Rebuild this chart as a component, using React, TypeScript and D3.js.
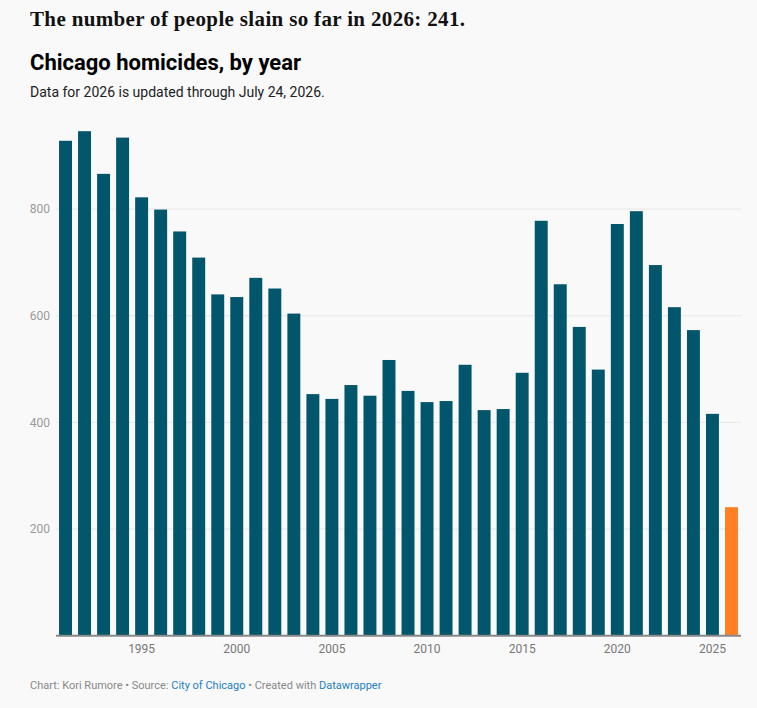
import { useEffect, useRef } from "react";
import * as d3 from "d3";

// Chicago homicides per year (2026 is partial, through July 24)
const years = [
  1991, 1992, 1993, 1994, 1995, 1996, 1997, 1998, 1999, 2000, 2001, 2002,
  2003, 2004, 2005, 2006, 2007, 2008, 2009, 2010, 2011, 2012, 2013, 2014,
  2015, 2016, 2017, 2018, 2019, 2020, 2021, 2022, 2023, 2024, 2025, 2026,
];
const homicides = [
  928, 946, 866, 934, 822, 799, 758, 709, 640, 635, 671, 651,
  604, 453, 444, 470, 450, 517, 459, 438, 440, 508, 423, 425,
  493, 778, 659, 579, 499, 772, 796, 695, 616, 573, 416, 241,
];
const yTicks = [200, 400, 600, 800];
const xTickYears = [1995, 2000, 2005, 2010, 2015, 2020, 2025];

const W = 757;
const H = 708;
const BG = "#f9f9f9";
const BAR = "#01566b";
const HIGHLIGHT = "#ff7f22";

export default function App() {
  const ref = useRef<SVGSVGElement>(null);

  useEffect(() => {
    document.body.style.margin = "0";
    document.body.style.background = BG;

    const svg = d3.select(ref.current);
    svg.selectAll("*").remove();

    const x = d3
      .scaleBand<number>()
      .domain(years)
      .range([56, 741])
      .paddingInner(0.32)
      .paddingOuter(0.16);
    const y = d3.scaleLinear().domain([0, 1000]).range([635.7, 102.4]);

    const font = "Roboto, 'Noto Sans', sans-serif";

    // header
    svg
      .append("text")
      .attr("x", 30)
      .attr("y", 26)
      .attr("font-family", "'Liberation Serif', serif")
      .attr("font-weight", 700)
      .attr("font-size", 21)
      .attr("fill", "#111")
      .attr("textLength", 435)
      .attr("lengthAdjust", "spacing")
      .text("The number of people slain so far in 2026: 241.");
    svg
      .append("text")
      .attr("x", 30)
      .attr("y", 70)
      .attr("font-family", font)
      .attr("font-weight", 700)
      .attr("font-size", 22)
      .attr("fill", "#000")
      .text("Chicago homicides, by year");
    svg
      .append("text")
      .attr("x", 30)
      .attr("y", 97)
      .attr("font-family", font)
      .attr("font-size", 14)
      .attr("fill", "#222")
      .text("Data for 2026 is updated through July 24, 2026.");

    // grid + y labels
    const grid = svg.append("g");
    grid
      .selectAll("line")
      .data(yTicks)
      .join("line")
      .attr("x1", 56)
      .attr("x2", 741)
      .attr("y1", (d) => y(d))
      .attr("y2", (d) => y(d))
      .attr("stroke", "#e6e6e6")
      .attr("stroke-width", 1);
    grid
      .selectAll("text")
      .data(yTicks)
      .join("text")
      .attr("x", 50)
      .attr("y", (d) => y(d))
      .attr("dy", "0.35em")
      .attr("text-anchor", "end")
      .attr("font-family", font)
      .attr("font-size", 12)
      .attr("fill", "#999")
      .text((d) => d);

    // bars
    svg
      .append("g")
      .selectAll("rect")
      .data(years)
      .join("rect")
      .attr("x", (d) => x(d)!)
      .attr("y", (_, i) => y(homicides[i]))
      .attr("width", x.bandwidth())
      .attr("height", (_, i) => y(0) - y(homicides[i]))
      .attr("fill", (d) => (d === 2026 ? HIGHLIGHT : BAR));

    // baseline
    svg
      .append("line")
      .attr("x1", 56)
      .attr("x2", 741)
      .attr("y1", y(0))
      .attr("y2", y(0))
      .attr("stroke", "#888")
      .attr("stroke-width", 2);

    // x labels
    svg
      .append("g")
      .selectAll("text")
      .data(xTickYears)
      .join("text")
      .attr("x", (d) => x(d)! + x.bandwidth() / 2)
      .attr("y", 653)
      .attr("text-anchor", "middle")
      .attr("font-family", font)
      .attr("font-size", 12)
      .attr("fill", "#777")
      .text((d) => d);

    // footer
    const foot = svg
      .append("text")
      .attr("x", 30)
      .attr("y", 689)
      .attr("font-family", font)
      .attr("font-size", 11)
      .attr("fill", "#888");
    foot.append("tspan").text("Chart: Kori Rumore • Source: ");
    foot.append("tspan").attr("fill", "#1d7fc2").text("City of Chicago");
    foot.append("tspan").text(" • Created with ");
    foot.append("tspan").attr("fill", "#1d7fc2").text("Datawrapper");
  }, []);

  return (
    <svg
      ref={ref}
      width={W}
      height={H}
      style={{ display: "block", background: BG }}
    />
  );
}
